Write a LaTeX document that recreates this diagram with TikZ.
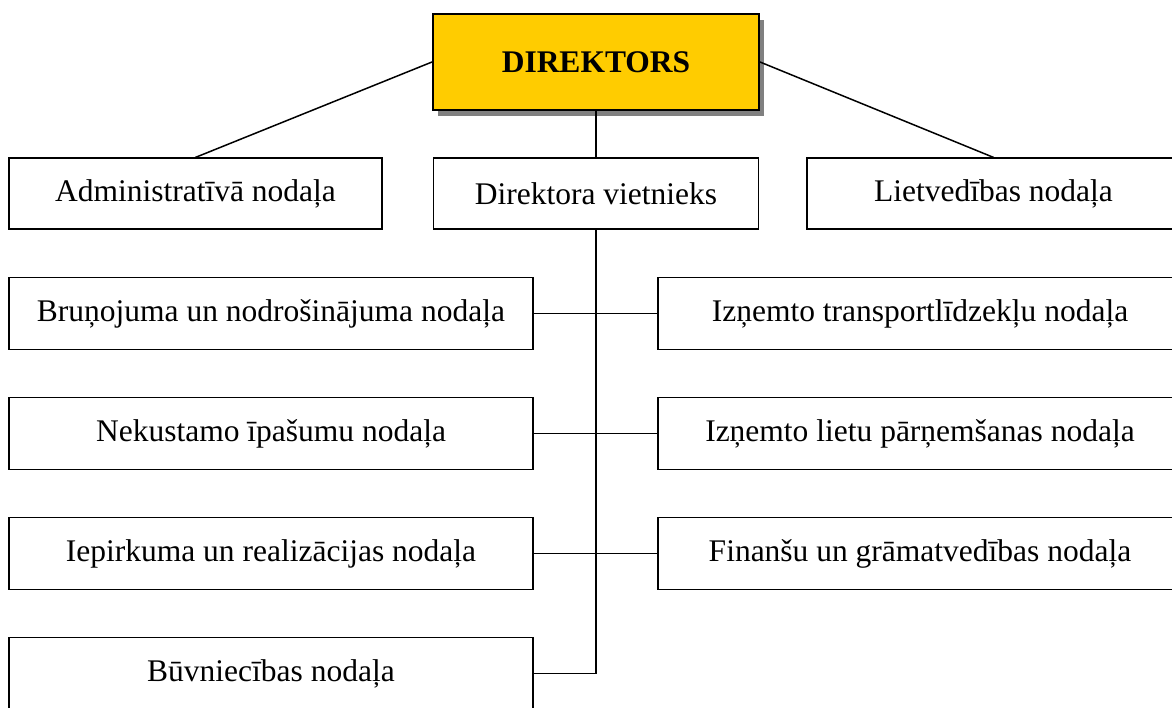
\documentclass[tikz,border=0pt]{standalone}
\usepackage{fontspec}
\setmainfont{Liberation Serif}
\usepackage{tikz}
\usetikzlibrary{positioning, shadows}
\definecolor{dirgold}{HTML}{FFCC00}
\definecolor{shadowgray}{HTML}{808080}
\newcommand{\orgfont}{\fontsize{31.5}{36}\selectfont}
\tikzstyle{head} = [rectangle, minimum width=326pt, minimum height=96pt, inner sep=0pt, text centered, draw=black, line width=2pt, fill=dirgold, font=\orgfont\bfseries, drop shadow={shadow xshift=5pt, shadow yshift=-6pt, fill=shadowgray, opacity=1}]
\tikzstyle{unit} = [rectangle, minimum width=373pt, minimum height=71pt, inner sep=0pt, text centered, draw=black, line width=1.2pt, fill=white]
\tikzstyle{dept} = [unit, minimum width=524pt, minimum height=72pt]
\tikzstyle{line} = [line width=1.5pt]

\begin{document}
\begin{tikzpicture}[x=1pt, y=1pt, node distance=120pt, every node/.style={font=\orgfont}]

\useasboundingbox (-596,62) rectangle (576,-645);

\node (dir) [head] {DIREKTORS};
\node (vice) [unit, minimum width=325pt, below of=dir, yshift=-11.5pt] {Direktora vietnieks};
\node (admin) [unit, left of=vice, xshift=-280.5pt] {Administratīvā nodaļa};
\node (lietv) [unit, right of=vice, xshift=277.5pt] {Lietvedības nodaļa};

\node (brun) [dept, below of=admin, xshift=75.5pt] {Bruņojuma un nodrošinājuma nodaļa};
\node (nek) [dept, below of=brun] {Nekustamo īpašumu nodaļa};
\node (iep) [dept, below of=nek] {Iepirkuma un realizācijas nodaļa};
\node (buv) [dept, below of=iep] {Būvniecības nodaļa};

\node (transp) [dept, below of=lietv, xshift=-73.5pt] {Izņemto transportlīdzekļu nodaļa};
\node (lietas) [dept, below of=transp] {Izņemto lietu pārņemšanas nodaļa};
\node (fin) [dept, below of=lietas] {Finanšu un grāmatvedības nodaļa};

\draw [line] (dir.west) -- (admin.north);
\draw [line] (dir.east) -- (lietv.north);
\draw [line] (dir) -- (vice);
\draw [line] (vice.south) |- (buv.east);
\draw [line] (brun) -- (transp);
\draw [line] (nek) -- (lietas);
\draw [line] (iep) -- (fin);

\end{tikzpicture}
\end{document}
